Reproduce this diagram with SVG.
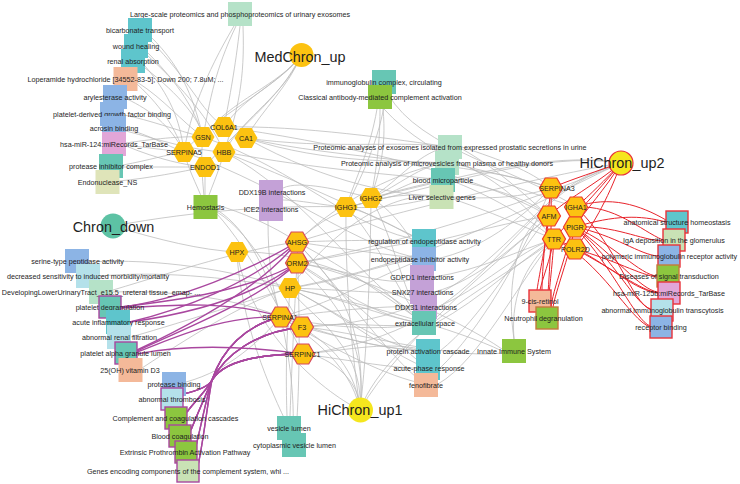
<svg xmlns="http://www.w3.org/2000/svg" xmlns:xlink="http://www.w3.org/1999/xlink" width="740" height="484" viewBox="0 0 740 484">
<defs>
<polygon id="hex" points="-11.5,0 -5.75,-10 5.75,-10 11.5,0 5.75,10 -5.75,10"/>
<rect id="sq" x="-12" y="-12" width="24" height="24"/>
<rect id="sqb" x="-11" y="-11" width="22" height="22"/>
<style>
text{font-family:"Liberation Sans",Arial,Helvetica,sans-serif;fill:#1e1e1e;text-anchor:middle}
.t{font-size:7.2px}
.h{font-size:14.4px}
.e path{fill:none;stroke:#b9b9b9;stroke-width:0.75}
.m path{fill:none;stroke:#a9479f;stroke-width:1.4}
.r path{fill:none;stroke:#e8232b;stroke-width:1}
.hx{fill:#fcc211}
.hr{fill:#fcc211;stroke:#d7475c;stroke-width:1.2}
.hR{fill:#fcc211;stroke:#ee3b2b;stroke-width:1.2}
.pb{stroke:#a9479f;stroke-width:1.4}
.rb{stroke:#e8323a;stroke-width:1.4}
.cT{fill:#5ec5cc}.cG{fill:#67c6b4}.cS{fill:#f4b999}.cB{fill:#8cb4e5}.cP{fill:#e2a6d8}.cV{fill:#c4a1d7}
.cM{fill:#b5e2c8}.cL{fill:#c9e2b5}.cK{fill:#8cc63f}.cC{fill:#b4e1ea}.cY{fill:#dfe4b9}
</style>
</defs>
<rect width="740" height="484" fill="#ffffff"/>
<g id="edges">
<g class="e">
<path d="M301,55 C285,80 245,95 224,127"/>
<path d="M301,55 C280,85 230,100 203,137"/>
<path d="M301,55 C290,85 262,110 246,138"/>
<path d="M301,55 C285,95 245,115 224,152"/>
<path d="M301,55 C275,90 215,115 184,152"/>
<path d="M301,55 C280,100 235,130 205,167"/>
<path d="M236,26 C215,70 210,100 203,137"/>
<path d="M240,26 C235,70 230,95 224,127"/>
<path d="M243,26 C245,80 238,110 224,152"/>
<path d="M234,26 C205,75 190,115 184,152"/>
<path d="M150,36 C185,70 195,105 203,137"/>
<path d="M150,40 C190,80 200,110 224,127"/>
<path d="M147,52 C180,85 195,110 203,137"/>
<path d="M147,55 C185,90 210,120 224,152"/>
<path d="M145,66 C170,95 180,120 184,152"/>
<path d="M145,68 C180,95 200,120 203,137"/>
<path d="M137,82 C165,100 180,120 203,137"/>
<path d="M137,84 C165,110 175,130 184,152"/>
<path d="M127,99 C150,110 170,125 184,152"/>
<path d="M124,115 C150,120 175,130 203,137"/>
<path d="M126,129 C150,135 165,145 184,152"/>
<path d="M126,131 C160,140 190,150 224,152"/>
<path d="M126,145 C150,148 165,150 184,152"/>
<path d="M126,146 C160,160 185,165 205,167"/>
<path d="M126,143 C160,138 185,136 203,137"/>
<path d="M123,165 C150,160 165,155 184,152"/>
<path d="M123,167 C150,167 180,167 205,167"/>
<path d="M119,181 C150,178 180,172 205,167"/>
<path d="M203,137 C200,160 203,185 205,207"/>
<path d="M184,152 C190,175 200,190 205,207"/>
<path d="M224,152 C218,175 210,190 205,207"/>
<path d="M205,167 L205,207"/>
<path d="M217,210 C250,230 270,280 281,317"/>
<path d="M217,212 C255,235 285,300 302,327"/>
<path d="M217,214 C250,250 285,320 303,354"/>
<path d="M217,205 C250,215 280,230 297,242"/>
<path d="M246,138 C330,150 400,140 450,147"/>
<path d="M246,138 C330,165 400,160 447,163"/>
<path d="M224,152 C320,170 400,175 443,180"/>
<path d="M224,127 C300,125 400,140 450,147"/>
<path d="M246,138 C330,185 400,195 441,197"/>
<path d="M224,152 C320,190 380,220 424,241"/>
<path d="M246,138 C340,160 470,160 551,188"/>
<path d="M224,127 C320,140 470,170 549,216"/>
<path d="M224,152 C300,190 360,280 424,323"/>
<path d="M203,137 C300,170 350,230 424,241"/>
<path d="M184,152 C290,190 360,250 424,259"/>
<path d="M113,226 C160,240 200,250 237,252"/>
<path d="M113,226 C200,210 280,205 346,207"/>
<path d="M89,262 C160,258 230,270 290,288"/>
<path d="M100,276 C170,270 240,280 290,288"/>
<path d="M113,292 C180,290 240,300 281,317"/>
<path d="M113,290 C180,270 240,250 297,242"/>
<path d="M268,221 C268,260 272,290 281,317"/>
<path d="M283,200 C300,200 320,205 346,207"/>
<path d="M283,188 C300,180 340,190 371,198"/>
<path d="M237,252 C240,320 270,390 289,428"/>
<path d="M237,252 C300,250 380,280 424,323"/>
<path d="M237,252 C250,330 320,390 360,410"/>
<path d="M377,109 C370,150 355,180 346,207"/>
<path d="M380,109 C380,150 375,175 371,198"/>
<path d="M383,109 C387,150 378,175 371,198"/>
<path d="M386,94 C380,140 360,180 346,207"/>
<path d="M388,94 C420,150 520,170 576,207"/>
<path d="M384,109 C430,160 520,190 576,207"/>
<path d="M371,198 C400,180 420,150 450,147"/>
<path d="M371,198 C400,185 420,165 447,163"/>
<path d="M371,198 C400,190 420,185 443,180"/>
<path d="M346,207 C390,200 420,170 443,180"/>
<path d="M346,207 C390,210 420,200 441,197"/>
<path d="M346,207 C380,215 405,235 424,241"/>
<path d="M371,198 C400,215 410,240 424,259"/>
<path d="M346,207 C380,240 400,300 424,323"/>
<path d="M371,198 C395,240 405,300 424,323"/>
<path d="M346,207 C430,190 540,150 621,163"/>
<path d="M371,198 C450,180 550,150 621,163"/>
<path d="M346,207 C345,300 355,370 360,410"/>
<path d="M371,198 C370,300 365,370 360,410"/>
<path d="M297,242 C350,240 390,240 424,241"/>
<path d="M297,242 C350,250 390,255 424,259"/>
<path d="M297,242 C350,270 390,300 424,323"/>
<path d="M297,242 C340,200 400,170 447,163"/>
<path d="M297,242 C340,200 400,190 441,197"/>
<path d="M297,263 C350,255 390,245 424,241"/>
<path d="M297,263 C350,270 390,290 422,277"/>
<path d="M297,263 C350,300 390,320 424,323"/>
<path d="M297,263 C350,290 400,350 428,368"/>
<path d="M290,288 C350,280 390,260 424,259"/>
<path d="M290,288 C350,300 390,320 424,323"/>
<path d="M290,288 C350,320 390,350 428,351"/>
<path d="M290,288 C350,320 400,360 428,368"/>
<path d="M290,288 C340,220 400,190 441,197"/>
<path d="M290,288 C350,290 390,295 422,292"/>
<path d="M281,317 C340,300 390,270 424,259"/>
<path d="M281,317 C340,330 390,330 424,323"/>
<path d="M281,317 C340,340 390,350 428,351"/>
<path d="M281,317 C350,360 400,380 426,384"/>
<path d="M281,317 C340,310 390,305 425,307"/>
<path d="M302,327 C350,320 390,330 424,323"/>
<path d="M302,327 C350,340 390,350 428,351"/>
<path d="M303,354 C350,350 390,340 428,351"/>
<path d="M303,354 C350,360 400,370 428,368"/>
<path d="M297,242 C350,300 400,370 426,384"/>
<path d="M434,277 C480,270 520,250 554,239"/>
<path d="M434,292 C480,280 520,240 549,216"/>
<path d="M437,307 C480,290 520,250 554,239"/>
<path d="M436,241 C480,230 520,220 549,216"/>
<path d="M436,259 C480,250 520,220 551,188"/>
<path d="M436,323 C480,300 520,260 554,239"/>
<path d="M440,351 C480,320 520,250 549,216"/>
<path d="M440,368 C480,330 520,260 551,188"/>
<path d="M438,384 C480,360 520,280 554,239"/>
<path d="M462,147 C500,160 530,170 551,188"/>
<path d="M462,149 C500,170 530,200 549,216"/>
<path d="M459,163 C500,180 530,210 554,239"/>
<path d="M459,165 C500,175 530,180 551,188"/>
<path d="M455,180 C500,190 530,200 549,216"/>
<path d="M455,182 C500,200 530,220 554,239"/>
<path d="M453,197 C500,200 530,195 551,188"/>
<path d="M453,199 C500,215 530,230 554,239"/>
<path d="M621,163 C550,175 400,210 297,242"/>
<path d="M621,163 C560,190 420,240 297,263"/>
<path d="M621,163 C540,200 440,260 290,288"/>
<path d="M621,163 C500,200 500,330 303,354"/>
<path d="M621,163 C510,190 505,320 302,327"/>
<path d="M502,351 C460,330 350,300 290,288"/>
<path d="M502,349 C460,320 350,270 297,263"/>
<path d="M514,339 C510,290 530,260 554,239"/>
<path d="M514,339 C505,280 520,220 549,216"/>
<path d="M502,353 C450,360 350,330 302,327"/>
<path d="M360,410 C360,370 310,350 303,354"/>
<path d="M360,410 C355,360 320,340 302,327"/>
<path d="M360,410 C350,360 300,330 281,317"/>
<path d="M360,410 C365,340 300,310 290,288"/>
<path d="M360,410 C370,320 310,280 297,263"/>
<path d="M360,410 C370,300 310,260 297,242"/>
<path d="M360,410 C390,330 520,270 554,239"/>
<path d="M360,410 C400,340 500,260 549,216"/>
<path d="M287,416 C285,360 288,320 290,288"/>
<path d="M290,416 C292,360 295,300 297,263"/>
<path d="M296,433 C300,380 300,320 297,242"/>
<path d="M293,433 C295,380 285,340 281,317"/>
<path d="M142,368 C200,330 250,300 290,288"/>
<path d="M186,382 C230,370 260,340 281,317"/>
<path d="M131,337 C190,320 250,300 290,288"/>
</g>
<g class="m">
<path d="M297,242 C250,270 180,300 121,307"/>
<path d="M297,242 C250,285 180,310 130,322"/>
<path d="M297,242 C260,290 180,330 137,350"/>
<path d="M297,263 C250,290 180,300 121,307"/>
<path d="M297,263 C250,300 180,315 130,322"/>
<path d="M297,263 C260,300 180,330 137,351"/>
<path d="M281,317 C230,300 170,305 121,308"/>
<path d="M281,317 C220,315 170,340 137,352"/>
<path d="M303,354 C240,345 180,345 137,354"/>
<path d="M281,317 C245,325 222,350 212,380 C208,388 192,392 183,394"/>
<path d="M281,317 C245,325 222,350 212,380 C208,389 194,402 187,412"/>
<path d="M281,317 C245,325 222,350 212,380 C208,390 197,415 191,430"/>
<path d="M281,317 C245,325 222,350 212,380 C209,392 203,445 198,465"/>
<path d="M302,327 C255,332 225,355 212,380 C208,388 192,392 183,394"/>
<path d="M302,327 C255,332 225,355 212,380 C208,389 194,402 187,412"/>
<path d="M302,327 C255,332 225,355 212,380 C208,390 197,415 191,430"/>
<path d="M302,327 C255,332 225,355 212,380 C208,391 200,430 196,446"/>
<path d="M303,354 C260,354 225,360 212,380 C208,388 192,392 183,394"/>
<path d="M303,354 C260,354 225,360 212,380 C208,389 194,402 187,412"/>
<path d="M303,354 C260,354 225,360 212,380 C208,390 197,415 191,430"/>
<path d="M303,354 C260,354 225,360 212,380 C208,391 200,430 196,446"/>
<path d="M303,354 C260,354 225,360 212,380 C209,392 203,445 198,465"/>
</g>
<g class="r">
<path d="M621,163 C600,170 570,180 551,188"/>
<path d="M621,163 C605,180 590,195 576,207"/>
<path d="M621,163 C595,185 565,200 549,216"/>
<path d="M621,163 C605,190 585,210 575,227"/>
<path d="M621,163 C595,195 570,220 554,239"/>
<path d="M621,163 C608,200 590,230 575,249"/>
<path d="M576,207 C610,195 640,205 666,220"/>
<path d="M576,207 C615,205 640,230 663,240"/>
<path d="M575,227 C615,215 640,215 666,222"/>
<path d="M575,227 C615,225 640,240 663,241"/>
<path d="M575,227 C615,235 640,255 658,256"/>
<path d="M575,227 C615,245 640,275 657,276"/>
<path d="M575,227 C615,255 640,290 658,292"/>
<path d="M575,227 C615,260 635,305 651,309"/>
<path d="M575,227 C615,270 635,320 650,326"/>
<path d="M576,207 C620,250 630,300 651,310"/>
<path d="M575,249 C615,260 640,275 657,277"/>
<path d="M575,249 C615,270 640,290 658,293"/>
<path d="M554,239 C600,260 630,320 650,327"/>
<path d="M554,239 C600,255 630,290 658,293"/>
<path d="M554,239 C550,260 542,280 540,290"/>
<path d="M549,216 C545,250 540,270 537,290"/>
<path d="M551,188 C552,240 549,280 547,307"/>
<path d="M576,207 C570,250 555,280 551,307"/>
<path d="M575,227 C568,260 556,290 553,307"/>
<path d="M554,239 C552,270 549,290 548,307"/>
<path d="M551,188 C546,230 542,270 542,290"/>
</g>
</g>
<g id="nodes">
<g id="n_largescale"><use xlink:href="#sq" x="240" y="14" class="cM"/><text class="t" x="240" y="16.5">Large-scale proteomics and phosphoproteomics of urinary exosomes</text></g>
<g id="n_bicarb"><use xlink:href="#sq" x="140" y="30" class="cT"/><text class="t" x="140" y="32.5">bicarbonate transport</text></g>
<g id="n_wound"><use xlink:href="#sq" x="136" y="46" class="cT"/><text class="t" x="136" y="48.5">wound healing</text></g>
<g id="n_renal"><use xlink:href="#sq" x="133" y="61" class="cT"/><text class="t" x="133" y="63.5">renal absorption</text></g>
<g id="n_loper"><use xlink:href="#sq" x="125.5" y="79" class="cS"/><text class="t" x="125.5" y="81.5">Loperamide hydrochloride [34552-83-5]; Down 200; 7.8uM; ...</text></g>
<g id="n_aryl"><use xlink:href="#sq" x="115" y="97" class="cB"/><text class="t" x="115" y="99.5">arylesterase activity</text></g>
<g id="n_pdgf"><use xlink:href="#sq" x="112" y="114" class="cB"/><text class="t" x="112" y="116.5">platelet-derived growth factor binding</text></g>
<g id="n_acrosin"><use xlink:href="#sq" x="114" y="128" class="cB"/><text class="t" x="114" y="130.5">acrosin binding</text></g>
<g id="n_mir124"><use xlink:href="#sq" x="114" y="144" class="cP"/><text class="t" x="114" y="146.5">hsa-miR-124:miRecords_TarBase</text></g>
<g id="n_protinh"><use xlink:href="#sq" x="111" y="166" class="cG"/><text class="t" x="111" y="168.5">protease inhibitor complex</text></g>
<g id="n_endonuc"><use xlink:href="#sq" x="107.5" y="182" class="cY"/><text class="t" x="107.5" y="184.5">Endonuclease_NS</text></g>
<g id="n_hemo"><use xlink:href="#sq" x="205.5" y="207" class="cK"/><text class="t" x="205.5" y="209.5">Hemostasis</text></g>
<g id="n_ddx19b"><use xlink:href="#sq" x="271" y="192" class="cV"/><text class="t" x="272" y="194.5">DDX19B interactions</text></g>
<g id="n_ice2"><use xlink:href="#sq" x="271" y="209" class="cV"/><text class="t" x="271" y="211.5">ICE2 interactions</text></g>
<g id="n_serine"><use xlink:href="#sq" x="77" y="261" class="cB"/><text class="t" x="77.5" y="263.5">serine-type peptidase activity</text></g>
<g id="n_decr"><use xlink:href="#sq" x="88" y="276" class="cC"/><text class="t" x="88" y="278.5">decreased sensitivity to induced morbidity/mortality</text></g>
<g id="n_devel"><use xlink:href="#sq" x="101" y="292" class="cM"/><text class="t" x="101" y="294.5">DevelopingLowerUrinaryTract_e15.5_ureteral tissue_emap- ...</text></g>
<g id="n_pltdeg"><use xlink:href="#sqb" x="110" y="307" class="cG pb"/><text class="t" x="110" y="309.5">platelet degranulation</text></g>
<g id="n_acute"><use xlink:href="#sq" x="118" y="322" class="cT"/><text class="t" x="118.5" y="324.5">acute inflammatory response</text></g>
<g id="n_renalfilt"><use xlink:href="#sq" x="119" y="337" class="cC"/><text class="t" x="119.5" y="339.5">abnormal renal filtration</text></g>
<g id="n_pltalpha"><use xlink:href="#sqb" x="126" y="353" class="cG pb"/><text class="t" x="125.5" y="355.5">platelet alpha granule lumen</text></g>
<g id="n_vitd"><use xlink:href="#sq" x="130.5" y="370" class="cS"/><text class="t" x="130" y="372.5">25(OH) vitamin D3</text></g>
<g id="n_protbind"><use xlink:href="#sq" x="174" y="384" class="cB"/><text class="t" x="174" y="386.5">protease binding</text></g>
<g id="n_thromb"><use xlink:href="#sqb" x="172" y="399" class="cC pb"/><text class="t" x="172" y="401.5">abnormal thrombosis</text></g>
<g id="n_complement"><use xlink:href="#sqb" x="176" y="418" class="cK pb"/><text class="t" x="175.5" y="420.5">Complement and coagulation cascades</text></g>
<g id="n_bloodcoag"><use xlink:href="#sqb" x="180" y="436" class="cK pb"/><text class="t" x="180" y="438.5">Blood coagulation</text></g>
<g id="n_extrinsic"><use xlink:href="#sqb" x="186" y="452" class="cK pb"/><text class="t" x="185" y="454.5">Extrinsic Prothrombin Activation Pathway</text></g>
<g id="n_genesenc"><use xlink:href="#sqb" x="188" y="471" class="cL pb"/><text class="t" x="188" y="473.5">Genes encoding components of the complement system, whi ...</text></g>
<g id="n_igcomplex"><use xlink:href="#sq" x="384" y="82" class="cG"/><text class="t" x="384" y="84.5">immunoglobulin complex, circulating</text></g>
<g id="n_classical"><use xlink:href="#sq" x="380" y="97" class="cK"/><text class="t" x="380" y="99.5">Classical antibody-mediated complement activation</text></g>
<g id="n_prost"><use xlink:href="#sq" x="450" y="147" class="cM"/><text class="t" x="450" y="149.5">Proteomic analyses of exosomes isolated from expressed prostatic secretions in urine</text></g>
<g id="n_microves"><use xlink:href="#sq" x="447" y="163" class="cM"/><text class="t" x="447" y="165.5">Proteomic analysis of microvesicles from plasma of healthy donors</text></g>
<g id="n_bloodmp"><use xlink:href="#sq" x="443" y="180" class="cG"/><text class="t" x="443" y="182.5">blood microparticle</text></g>
<g id="n_liver"><use xlink:href="#sq" x="441.5" y="197" class="cL"/><text class="t" x="442" y="199.5">Liver selective genes</text></g>
<g id="n_regendo"><use xlink:href="#sq" x="424" y="241" class="cT"/><text class="t" x="424.5" y="243.5">regulation of endopeptidase activity</text></g>
<g id="n_endoinh"><use xlink:href="#sq" x="424" y="259" class="cB"/><text class="t" x="420" y="261.5">endopeptidase inhibitor activity</text></g>
<g id="n_gdpd1"><use xlink:href="#sq" x="422" y="277" class="cV"/><text class="t" x="422" y="279.5">GDPD1 interactions</text></g>
<g id="n_snx27"><use xlink:href="#sq" x="422" y="292" class="cV"/><text class="t" x="422.5" y="294.5">SNX27 interactions</text></g>
<g id="n_ddx31"><use xlink:href="#sq" x="425" y="307" class="cV"/><text class="t" x="426" y="309.5">DDX31 interactions</text></g>
<g id="n_extra"><use xlink:href="#sq" x="424" y="323" class="cG"/><text class="t" x="425" y="325.5">extracellular space</text></g>
<g id="n_protact"><use xlink:href="#sq" x="428" y="351" class="cT"/><text class="t" x="428" y="353.5">protein activation cascade</text></g>
<g id="n_acutephase"><use xlink:href="#sq" x="428" y="368" class="cT"/><text class="t" x="429" y="370.5">acute-phase response</text></g>
<g id="n_feno"><use xlink:href="#sq" x="426" y="385" class="cS"/><text class="t" x="426" y="387.5">fenofibrate</text></g>
<g id="n_innate"><use xlink:href="#sq" x="514" y="351" class="cK"/><text class="t" x="514" y="353.5">Innate Immune System</text></g>
<g id="n_vesicle"><use xlink:href="#sq" x="289" y="428" class="cG"/><text class="t" x="289" y="430.5">vesicle lumen</text></g>
<g id="n_cytovesicle"><use xlink:href="#sq" x="294" y="445" class="cG"/><text class="t" x="294.5" y="447.5">cytoplasmic vesicle lumen</text></g>
<g id="n_retinol"><use xlink:href="#sqb" x="540" y="301" class="cS rb"/><text class="t" x="540" y="303.5">9-cis-retinol</text></g>
<g id="n_neutro"><use xlink:href="#sqb" x="547" y="318" class="cK" style="stroke:#c47a3c;stroke-width:1.4"/><text class="t" x="543.5" y="320.5">Neutrophil degranulation</text></g>
<g id="n_anat"><use xlink:href="#sqb" x="677" y="222" class="cT rb"/><text class="t" x="677" y="224.5">anatomical structure homeostasis</text></g>
<g id="n_iga"><use xlink:href="#sqb" x="674" y="240" class="cL rb"/><text class="t" x="674" y="242.5">IgA deposition in the glomerulus</text></g>
<g id="n_pigrrec"><use xlink:href="#sqb" x="669" y="256" class="cB rb"/><text class="t" x="669.5" y="258.5">polymeric immunoglobulin receptor activity</text></g>
<g id="n_diseases"><use xlink:href="#sqb" x="668" y="276" class="cK" style="stroke:#c47a3c;stroke-width:1.4"/><text class="t" x="669" y="278.5">Diseases of signal transduction</text></g>
<g id="n_mir125"><use xlink:href="#sqb" x="669" y="293" class="cP rb"/><text class="t" x="669" y="295.5">hsa-miR-125b:miRecords_TarBase</text></g>
<g id="n_transcyt"><use xlink:href="#sqb" x="662" y="310" class="cC rb"/><text class="t" x="662.5" y="312.5">abnormal immunoglobulin transcytosis</text></g>
<g id="n_recbind"><use xlink:href="#sqb" x="661" y="327" class="cB rb"/><text class="t" x="661" y="329.5">receptor binding</text></g>
<g id="n_SERPINA5"><use xlink:href="#hex" x="184" y="152" class="hx"/><text class="t" x="184" y="154.5">SERPINA5</text></g>
<g id="n_GSN"><use xlink:href="#hex" x="203" y="137" class="hx"/><text class="t" x="203" y="139.5">GSN</text></g>
<g id="n_COL6A1"><use xlink:href="#hex" x="224" y="127" class="hx"/><text class="t" x="224" y="129.5">COL6A1</text></g>
<g id="n_CA1"><use xlink:href="#hex" x="246" y="138" class="hx"/><text class="t" x="246" y="140.5">CA1</text></g>
<g id="n_HBB"><use xlink:href="#hex" x="224" y="152" class="hx"/><text class="t" x="224" y="154.5">HBB</text></g>
<g id="n_ENDOD1"><use xlink:href="#hex" x="205" y="167" class="hx"/><text class="t" x="205" y="169.5">ENDOD1</text></g>
<g id="n_IGHG1"><use xlink:href="#hex" x="346" y="207" class="hx"/><text class="t" x="346" y="209.5">IGHG1</text></g>
<g id="n_IGHG2"><use xlink:href="#hex" x="371" y="198" class="hx"/><text class="t" x="371" y="200.5">IGHG2</text></g>
<g id="n_HPX"><use xlink:href="#hex" x="237" y="252" class="hx"/><text class="t" x="237" y="254.5">HPX</text></g>
<g id="n_AHSG"><use xlink:href="#hex" x="297" y="242" class="hr"/><text class="t" x="297" y="244.5">AHSG</text></g>
<g id="n_ORM2"><use xlink:href="#hex" x="297" y="263" class="hr"/><text class="t" x="297" y="265.5">ORM2</text></g>
<g id="n_HP"><use xlink:href="#hex" x="290" y="288" class="hx"/><text class="t" x="290" y="290.5">HP</text></g>
<g id="n_SERPINA1"><use xlink:href="#hex" x="281" y="317" class="hr"/><text class="t" x="280" y="319.5">SERPINA1</text></g>
<g id="n_F3"><use xlink:href="#hex" x="302" y="327" class="hr"/><text class="t" x="302" y="329.5">F3</text></g>
<g id="n_SERPINC1"><use xlink:href="#hex" x="303" y="354" class="hr"/><text class="t" x="302.5" y="356.5">SERPINC1</text></g>
<g id="n_SERPINA3"><use xlink:href="#hex" x="551" y="188" class="hR"/><text class="t" x="557" y="190.5">SERPINA3</text></g>
<g id="n_IGHA1"><use xlink:href="#hex" x="576" y="207" class="hR"/><text class="t" x="576" y="209.5">IGHA1</text></g>
<g id="n_AFM"><use xlink:href="#hex" x="549" y="216" class="hR"/><text class="t" x="549" y="218.5">AFM</text></g>
<g id="n_PIGR"><use xlink:href="#hex" x="575" y="227" class="hR"/><text class="t" x="575" y="229.5">PIGR</text></g>
<g id="n_TTR"><use xlink:href="#hex" x="554" y="239" class="hR"/><text class="t" x="554" y="241.5">TTR</text></g>
<g id="n_POLR2D"><use xlink:href="#hex" x="575" y="249" class="hR"/><text class="t" x="575.5" y="251.5">POLR2D</text></g>
<g id="n_MedChron_up"><circle cx="301.5" cy="55" r="12" fill="#fcc211"/><text class="h" x="300" y="62">MedChron_up</text></g>
<g id="n_Chron_down"><circle cx="113" cy="226" r="12.5" fill="#5dc2a4"/><text class="h" x="113.5" y="231.5">Chron_down</text></g>
<g id="n_HiChron_up1"><circle cx="360.5" cy="410" r="12.5" fill="#f5e61e"/><text class="h" x="360" y="415">HiChron_up1</text></g>
<g id="n_HiChron_up2"><circle cx="621" cy="163" r="12" fill="#f5e61e" stroke="#e8323a" stroke-width="1.2"/><text class="h" x="622" y="168">HiChron_up2</text></g>
</g>
</svg>
